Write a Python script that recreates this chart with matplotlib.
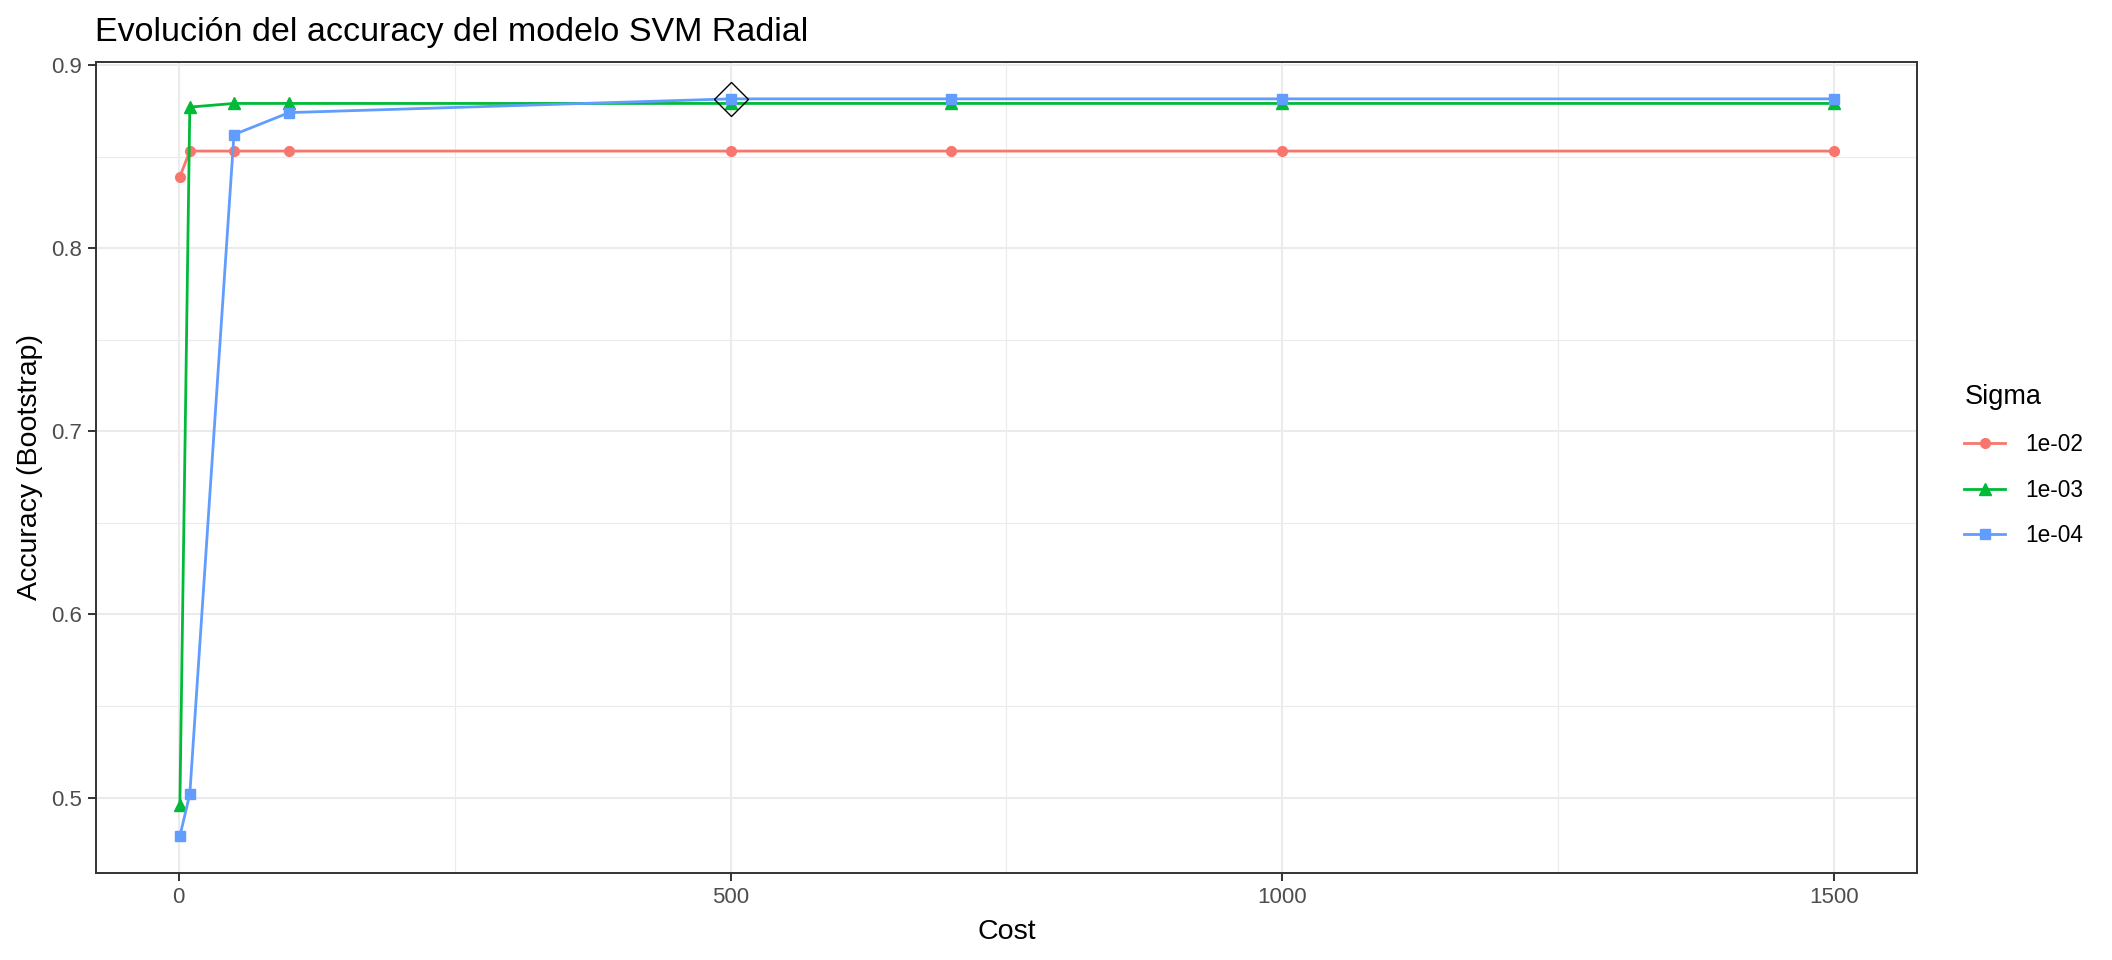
import matplotlib.pyplot as plt
import numpy as np

plt.rcParams['font.family'] = ['Liberation Sans', 'DejaVu Sans']

# Data
cost = [1, 10, 50, 100, 500, 700, 1000, 1500]
sigma_labels = ['1e-02', '1e-03', '1e-04']
acc_1e02 = [0.839, 0.853, 0.853, 0.853, 0.853, 0.853, 0.853, 0.853]
acc_1e03 = [0.496, 0.877, 0.879, 0.879, 0.879, 0.879, 0.879, 0.879]
acc_1e04 = [0.479, 0.502, 0.862, 0.874, 0.8815, 0.8815, 0.8815, 0.8815]
best_cost = 500
best_acc = 0.8815

colors = ['#F8766D', '#00BA38', '#619CFF']
markers = ['o', '^', 's']
msizes = [7, 8.5, 7.8]

fig = plt.figure(figsize=(21.12, 9.6), dpi=100)
ax = fig.add_axes([96 / 2112, 87 / 960, (1917 - 96) / 2112, (873 - 62) / 960])

for acc, lab, c, m, ms in zip([acc_1e02, acc_1e03, acc_1e04], sigma_labels,
                              colors, markers, msizes):
    ax.plot(cost, acc, color=c, lw=2.0, marker=m, ms=ms, mec=c, mfc=c,
            label=lab, zorder=3)

# best model marker
ax.plot([best_cost], [best_acc], marker='D', ms=17, mfc='none', mec='black',
        mew=1.0, ls='none', zorder=4)

# ggplot-like expansion
xmin, xmax = 0, 1500
ymin, ymax = min(acc_1e04), max(acc_1e04)
ax.set_xlim(xmin - 0.05 * (xmax - xmin), xmax + 0.05 * (xmax - xmin))
ax.set_ylim(ymin - 0.05 * (ymax - ymin), ymax + 0.05 * (ymax - ymin))

ax.set_xticks([0, 500, 1000, 1500])
ax.set_xticks([250, 750, 1250], minor=True)
ax.set_yticks([0.5, 0.6, 0.7, 0.8, 0.9])
ax.set_yticklabels(['0.5', '0.6', '0.7', '0.8', '0.9'])
ax.set_yticks([0.55, 0.65, 0.75, 0.85], minor=True)

ax.grid(which='major', color='#EBEBEB', lw=1.5, zorder=0)
ax.grid(which='minor', color='#EBEBEB', lw=0.8, zorder=0)
ax.set_axisbelow(True)

for sp in ax.spines.values():
    sp.set_color('#333333')
    sp.set_linewidth(1.4)

ax.tick_params(which='major', length=6, width=1.4, color='#333333',
               labelsize=16, labelcolor='#4D4D4D', pad=4)
ax.tick_params(which='minor', length=0)

ax.set_xlabel('Cost', fontsize=20.5, labelpad=8)
ax.set_ylabel('Accuracy (Bootstrap)', fontsize=20.5, labelpad=6)

fig.text(95 / 2112, 1 - 41 / 960, 'Evolución del accuracy del modelo SVM Radial',
         fontsize=24.5, va='baseline', ha='left')

leg = fig.legend(loc='upper left', bbox_to_anchor=(1944 / 2112, 1 - 364 / 960),
                 frameon=False, title='Sigma', fontsize=16.3,
                 title_fontsize=19.5, labelspacing=1.0, handlelength=1.8,
                 handletextpad=0.9, alignment='left')

fig.savefig('out.png', dpi=100)
